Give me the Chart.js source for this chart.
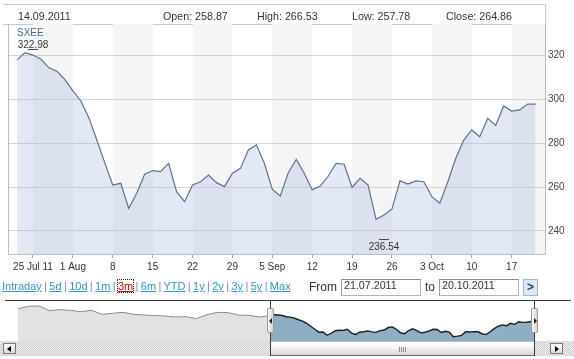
<!DOCTYPE html>
<html><head><meta charset="utf-8">
<script src="https://cdn.jsdelivr.net/npm/chart.js@4.4.0/dist/chart.umd.min.js"></script>
<style>
html,body{margin:0;padding:0;background:#fff;width:574px;height:359px;overflow:hidden;font-family:"Liberation Sans",Arial,sans-serif;}
canvas{position:absolute;left:0;display:block;}
#main{top:0;}
#nav{top:301px;}
.ln{position:absolute;background:#c8c8c8;}
.hdr{position:absolute;top:10px;font-size:10.7px;line-height:12px;color:#333;white-space:nowrap;}
#series{position:absolute;left:17px;top:27px;font-size:10px;line-height:11px;color:#3f6f9a;}
#links{position:absolute;left:2px;top:280px;font-size:11px;line-height:13px;color:#8a8a8a;white-space:nowrap;word-spacing:-0.7px;}
#links a{color:#3399cc;text-decoration:underline;}
#links a.active{color:#d40000;outline:1px dotted #222;}
.lbl{position:absolute;top:279px;font-size:12px;line-height:16px;color:#333;}
.inp{position:absolute;top:279px;height:17px;box-sizing:border-box;border:1px solid #b4b4b4;border-top-color:#8c8c8c;border-left-color:#9a9a9a;font-size:10.7px;line-height:11px;padding-left:2px;color:#333;background:#fff;}
#go{position:absolute;left:523px;top:279px;width:15px;height:17px;box-sizing:border-box;border:1px solid #a4b6cc;background:#dde8f5;color:#1d3c78;font-weight:bold;font-size:12px;line-height:15px;text-align:center;}
#sb{position:absolute;left:0;top:341px;width:574px;height:15px;background-image:repeating-conic-gradient(#c9c9c9 0 25%,#f2f2f2 0 50%);background-size:2px 2px;}
.arrow{position:absolute;top:343px;width:13px;height:11px;box-sizing:border-box;border:1px solid #7a7a7a;background:linear-gradient(#ffffff,#d9d9d9);}
.tri{position:absolute;top:2px;width:0;height:0;border-top:3px solid transparent;border-bottom:3px solid transparent;}
#thumb{position:absolute;left:270px;top:341px;width:265px;height:15px;box-sizing:border-box;border:1px solid #6c6c6c;border-top-color:#bbb;background:linear-gradient(#ffffff 0%,#f4f4f6 45%,#d4d4dc 100%);}
.grip{position:absolute;top:5px;width:1px;height:5px;background:#888;}
.selline{position:absolute;top:301px;width:1px;height:55px;background:#3a3a3a;}
.handle{position:absolute;top:308px;width:7px;height:25px;box-sizing:border-box;border:1px solid #9a9a9a;border-radius:2px;background:linear-gradient(90deg,#f6f6f6,#d6d6d6);}
</style></head>
<body>
<div class="ln" style="left:3px;top:4px;width:542px;height:1px;"></div>
<div class="ln" style="left:3px;top:24px;width:542px;height:1px;"></div>
<div class="ln" style="left:545px;top:4px;width:1px;height:20px;"></div>
<canvas id="main" width="574" height="300"></canvas>
<div id="hdrs"></div>
<div id="series">SXEE</div>
<div id="links"></div>
<div class="lbl" style="left:309px;">From</div>
<div class="inp" style="left:341px;width:80px;" id="from"></div>
<div class="lbl" style="left:425px;">to</div>
<div class="inp" style="left:439px;width:80px;" id="to"></div>
<div id="go">&gt;</div>
<div style="position:absolute;left:5px;top:300px;width:566px;height:1px;background:#3c3c3c;"></div>
<canvas id="nav" width="574" height="40"></canvas>
<div id="sb"></div>
<div class="arrow" style="left:3px;"><div class="tri" style="left:3px;border-right:4px solid #000;"></div></div>
<div class="arrow" style="left:550px;"><div class="tri" style="left:4px;border-left:4px solid #000;"></div></div>
<div id="thumb"><div class="grip" style="left:128px"></div><div class="grip" style="left:130px"></div><div class="grip" style="left:132px"></div><div class="grip" style="left:134px"></div></div>
<div class="selline" style="left:270px;"></div>
<div class="selline" style="left:534px;"></div>
<div class="handle" style="left:267px;"><div class="tri" style="left:1px;top:9px;border-right:3px solid #222;"></div></div>
<div class="handle" style="left:531px;"><div class="tri" style="left:2px;top:9px;border-left:3px solid #222;"></div></div>
<script>
// ---------- DATA ----------
const seriesName = 'SXEE';
const dates = [
'2011-07-21','2011-07-22',
'2011-07-25','2011-07-26','2011-07-27','2011-07-28','2011-07-29',
'2011-08-01','2011-08-02','2011-08-03','2011-08-04','2011-08-05',
'2011-08-08','2011-08-09','2011-08-10','2011-08-11','2011-08-12',
'2011-08-15','2011-08-16','2011-08-17','2011-08-18','2011-08-19',
'2011-08-22','2011-08-23','2011-08-24','2011-08-25','2011-08-26',
'2011-08-29','2011-08-30','2011-08-31','2011-09-01','2011-09-02',
'2011-09-05','2011-09-06','2011-09-07','2011-09-08','2011-09-09',
'2011-09-12','2011-09-13','2011-09-14','2011-09-15','2011-09-16',
'2011-09-19','2011-09-20','2011-09-21','2011-09-22','2011-09-23',
'2011-09-26','2011-09-27','2011-09-28','2011-09-29','2011-09-30',
'2011-10-03','2011-10-04','2011-10-05','2011-10-06','2011-10-07',
'2011-10-10','2011-10-11','2011-10-12','2011-10-13','2011-10-14',
'2011-10-17','2011-10-18','2011-10-19','2011-10-20'];
const closes = [
317.9,321.2,
320.1,318.2,314.3,312.7,308.9,
303.8,299.2,291.6,281.4,271.0,
260.9,261.7,250.3,257.2,265.8,
267.5,267.0,270.8,257.9,253.3,
260.9,262.4,265.5,262.0,260.2,
266.3,268.5,276.9,279.2,270.8,
258.9,255.9,266.5,272.6,266.3,
258.7,260.5,264.9,270.8,270.4,
259.9,264.0,260.9,245.3,247.3,
250.0,262.8,261.3,262.8,262.4,
255.6,252.6,262.4,273.1,281.4,
286.0,282.9,291.3,288.0,296.9,
294.6,295.1,297.8,297.8];
// earlier history shown in the navigator (sampled)
const history = [342.0,350.0,351.2,335.1,338.5,336.2,331.6,336.2,322.4,325.9,329.3,322.4,
320.1,318.4,316.7,313.2,314.4,307.5,321.3,329.3,328.2,320.1,319.0,313.2];
const tickDates = ['2011-07-25','2011-08-01','2011-08-08','2011-08-15','2011-08-22','2011-08-29','2011-09-05','2011-09-12','2011-09-19','2011-09-26','2011-10-03','2011-10-10','2011-10-17'];
const tickLabels = ['25 Jul 11','1 Aug','8','15','22','29','5 Sep','12','19','26','3 Oct','10','17'];
const yTicks = [240,260,280,300,320];
const extremeDates = ['2011-07-25','2011-09-23'];
const extremeValues = [322.98,236.54];
const headerTexts = ['14.09.2011','Open: 258.87','High: 266.53','Low: 257.78','Close: 264.86'];
const periodLinks = ['Intraday','5d','10d','1m','3m','6m','YTD','1y','2y','3y','5y','Max'];
const activePeriod = '3m';
const fromDate = '21.07.2011', toDate = '20.10.2011';

// ---------- LAYOUT ----------
const headerX = [18,163,257,352,446];
const HIST_STEP = 2.575;

// header / controls
const hd = document.getElementById('hdrs');
headerTexts.forEach((t,i)=>{const d=document.createElement('div');d.className='hdr';d.style.left=headerX[i]+'px';d.textContent=t;hd.appendChild(d);});
document.getElementById('series').textContent = seriesName;
const lk = document.getElementById('links');
periodLinks.forEach((p,i)=>{ if(i) lk.appendChild(document.createTextNode(' | ')); const a=document.createElement('a'); a.textContent=p; if(p===activePeriod) a.className='active'; lk.appendChild(a);});
document.getElementById('from').textContent = fromDate;
document.getElementById('to').textContent = toDate;

const idxOf = d => dates.indexOf(d);
const mondays = dates.map((d,i)=>({d,i})).filter(o=>new Date(o.d+'T00:00:00Z').getUTCDay()===1).map(o=>o.i);

const bandPlugin = {
  id:'bands',
  beforeDraw(chart){
    const {ctx, chartArea:a, scales:{x}} = chart;
    ctx.save();
    ctx.fillStyle = '#f5f5f5';
    mondays.forEach((m,k)=>{
      if(k%2) return;
      let l = x.getPixelForValue(m), r = x.getPixelForValue(m+5);
      l=Math.max(l,a.left); r=Math.min(r,a.right);
      ctx.fillRect(Math.round(l), a.top, Math.round(r)-Math.round(l), a.bottom-a.top);
    });
    ctx.restore();
  },
  afterDatasetsDraw(chart){
    const {ctx, chartArea:a, scales:{x,y}} = chart;
    ctx.save();
    ctx.strokeStyle = '#bdbdbd'; ctx.lineWidth = 1;
    ctx.beginPath();
    ctx.moveTo(a.left+0.5, a.top); ctx.lineTo(a.left+0.5, a.bottom+0.5);
    ctx.lineTo(a.right+0.5, a.bottom+0.5); ctx.lineTo(a.right+0.5, a.top);
    ctx.stroke();
    // extreme markers
    ctx.font = '10px "Liberation Sans", Arial, sans-serif';
    ctx.textAlign = 'center';
    extremeDates.forEach((d,k)=>{
      const px = x.getPixelForValue(idxOf(d));
      const py = Math.round(y.getPixelForValue(extremeValues[k]))+0.5;
      ctx.strokeStyle = '#4a4a4a';
      ctx.beginPath(); ctx.moveTo(px-5, py); ctx.lineTo(px+5, py); ctx.stroke();
      ctx.fillStyle = '#333';
      const up = k===0;
      ctx.fillText(extremeValues[k].toFixed(2), px, up ? py-2 : py+10.5);
    });
    ctx.restore();
  }
};

new Chart(document.getElementById('main'), {
  type:'line',
  data:{datasets:[{
    data: closes.map((v,i)=>({x:i,y:v})),
    borderColor:'#5d7290', borderWidth:1.2, backgroundColor:'rgba(172,190,224,0.34)',
    fill:'start', pointRadius:0, tension:0
  }]},
  options:{
    responsive:false, animation:false, devicePixelRatio:1,
    layout:{padding:{left:8,top:24,right:0,bottom:0}},
    plugins:{legend:{display:false},tooltip:{enabled:false}},
    scales:{
      x:{type:'linear', min:-1.133, max:66.18,
        afterFit(s){s.height=46;},
        afterBuildTicks(s){s.ticks = tickDates.map(d=>({value:idxOf(d)}));},
        ticks:{autoSkip:false,maxRotation:0,padding:3,color:'#333',font:{family:'"Liberation Sans", Arial, sans-serif',size:10},
          callback:(v)=>{const k=tickDates.findIndex(d=>idxOf(d)===v); return k>=0?tickLabels[k]:'';}},
        grid:{drawOnChartArea:false,drawTicks:true,tickLength:4,color:'#a8a8a8'},
        border:{display:false}
      },
      y:{position:'right', min:229.5, max:334.25,
        afterFit(s){s.width=29;},
        afterBuildTicks(s){s.ticks = yTicks.map(v=>({value:v}));},
        ticks:{padding:3,color:'#444',font:{family:'"Liberation Sans", Arial, sans-serif',size:10}},
        grid:{color:'#d4d4d4',drawTicks:false},
        border:{display:false}
      }
    }
  },
  plugins:[bandPlugin]
});

// navigator
const histPts = history.map((v,k)=>({x:(k-history.length)*HIST_STEP, y:v}));
histPts.push({x:0,y:closes[0]});
new Chart(document.getElementById('nav'), {
  type:'line',
  data:{datasets:[
    {data:histPts, borderColor:'#8a8a8a', borderWidth:1, backgroundColor:'#e2e2e2', fill:'start', pointRadius:0, tension:0},
    {data:closes.map((v,i)=>({x:i,y:v})), borderColor:'#1e1e1e', borderWidth:1.4, backgroundColor:'#8eaec4', fill:'start', pointRadius:0, tension:0}
  ]},
  options:{
    responsive:false, animation:false, devicePixelRatio:1,
    layout:{padding:{left:18,right:39,top:0,bottom:0}},
    plugins:{legend:{display:false},tooltip:{enabled:false}},
    scales:{
      x:{type:'linear',display:false,min:-history.length*HIST_STEP,max:closes.length-1},
      y:{display:false,min:230.5,max:368.4}
    }
  }
});
</script>
</body></html>
